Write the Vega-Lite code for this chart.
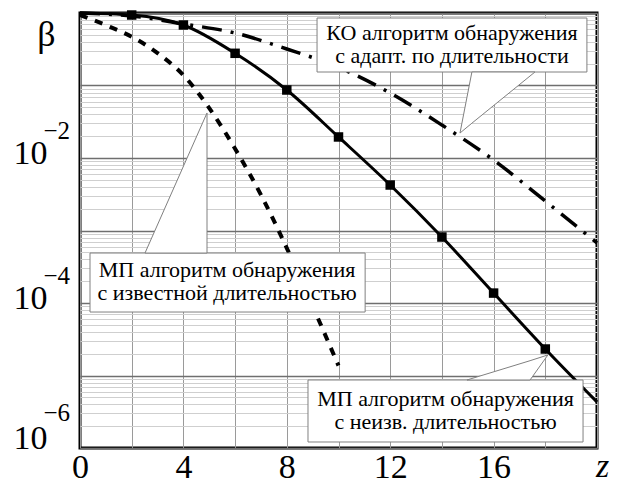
{
  "$schema": "https://vega.github.io/schema/vega-lite/v6.json",
  "width": 517,
  "height": 435,
  "autosize": "none",
  "padding": {"left": 80, "top": 13, "right": 27, "bottom": 35},
  "background": "white",
  "config": {
    "view": {"stroke": "black", "strokeWidth": 3},
    "font": "Liberation Serif",
    "axis": {"labelFont": "Liberation Serif", "titleFont": "Liberation Serif", "labelColor": "black", "titleColor": "black", "titleFontWeight": "normal", "ticks": false, "domain": false}
  },
  "datasets": {
    "curves": [
      {"series": "unk", "z": 0, "beta": 1.0},
      {"series": "unk", "z": 2, "beta": 0.938},
      {"series": "unk", "z": 4, "beta": 0.683},
      {"series": "unk", "z": 6, "beta": 0.278},
      {"series": "unk", "z": 8, "beta": 0.0867},
      {"series": "unk", "z": 10, "beta": 0.0195},
      {"series": "unk", "z": 12, "beta": 0.00424},
      {"series": "unk", "z": 14, "beta": 0.000813},
      {"series": "unk", "z": 16, "beta": 0.000137},
      {"series": "unk", "z": 18, "beta": 0.0000232},
      {"series": "unk", "z": 20, "beta": 0.00000431},
      {"series": "known", "z": 0, "beta": 0.938},
      {"series": "known", "z": 1, "beta": 0.681},
      {"series": "known", "z": 2, "beta": 0.470},
      {"series": "known", "z": 3, "beta": 0.280},
      {"series": "known", "z": 4, "beta": 0.1387},
      {"series": "known", "z": 5, "beta": 0.0488},
      {"series": "known", "z": 6, "beta": 0.01343},
      {"series": "known", "z": 7, "beta": 0.00310},
      {"series": "known", "z": 8, "beta": 0.000571},
      {"series": "known", "z": 9, "beta": 0.0000903},
      {"series": "known", "z": 10, "beta": 0.0000137},
      {"series": "ko", "z": 0, "beta": 1.0},
      {"series": "ko", "z": 2, "beta": 0.909},
      {"series": "ko", "z": 4, "beta": 0.705},
      {"series": "ko", "z": 6, "beta": 0.530},
      {"series": "ko", "z": 8, "beta": 0.319},
      {"series": "ko", "z": 10, "beta": 0.178},
      {"series": "ko", "z": 12, "beta": 0.0788},
      {"series": "ko", "z": 14, "beta": 0.0285},
      {"series": "ko", "z": 16, "beta": 0.00938},
      {"series": "ko", "z": 18, "beta": 0.00255},
      {"series": "ko", "z": 20, "beta": 0.000672}
    ],
    "notes": [
      {"id": "ko", "z1": 9.17, "z2": 19.61, "b1": 0.853, "b2": 0.1535, "zc": 14.39, "bc": 0.362, "text": "КО алгоритм обнаружения\nс адапт. по длительности"},
      {"id": "known", "z1": 0.387, "z2": 11.03, "b1": 0.000489, "b2": 0.0000751, "zc": 5.69, "bc": 0.000192, "text": "МП алгоритм обнаружения\nс известной длительностью"},
      {"id": "unk", "z1": 8.82, "z2": 19.46, "b1": 0.00000867, "b2": 0.00000121, "zc": 14.14, "bc": 0.00000324, "text": "МП алгоритм обнаружения\nс неизв. длительностью"}
    ],
    "pointers": [
      {"id": "ko", "z": 14.70, "b": 0.0221, "b2": 0.0221},
      {"id": "ko", "z": 15.16, "b": 0.1535, "b2": 0.0302},
      {"id": "ko", "z": 17.60, "b": 0.1535, "b2": 0.1535},
      {"id": "known", "z": 2.515, "b": 0.000489, "b2": 0.000489},
      {"id": "known", "z": 4.913, "b": 0.0418, "b2": 0.000489},
      {"id": "unk", "z": 14.97, "b": 0.00000867, "b2": 0.00000867},
      {"id": "unk", "z": 17.41, "b": 0.0000160, "b2": 0.00000867},
      {"id": "unk", "z": 18.10, "b": 0.0000192, "b2": 0.0000192}
    ]
  },
  "layer": [
    {
      "data": {"name": "curves"},
      "transform": [{"filter": "datum.series == 'unk'"}],
      "mark": {"type": "line", "color": "black", "strokeWidth": 3, "interpolate": "monotone"},
      "encoding": {
        "x": {"field": "z", "type": "quantitative", "scale": {"domain": [0, 20], "nice": false},
          "axis": {"values": [0, 2, 4, 6, 8, 10, 12, 14, 16, 18, 20], "labelExpr": "(datum.value % 4 == 0 && datum.value < 20) ? datum.label : ''", "labelFontSize": 34, "labelPadding": 2, "labelFlush": false, "labelOverlap": false, "grid": true, "gridColor": "#9a9a9a", "gridWidth": 1,
            "title": "z", "titleFontSize": 34, "titleFontStyle": "italic", "titleX": 522, "titleY": 28, "titleAlign": "center", "titleBaseline": "alphabetic", "titleAnchor": null}},
        "y": {"field": "beta", "type": "quantitative", "scale": {"type": "log", "domain": [0.000001, 1], "nice": false},
          "axis": {"orient": "left",
            "values": [0.000001, 0.000002, 0.000003, 0.000004, 0.000005, 0.000006, 0.000007, 0.000008, 0.000009,
                       0.00001, 0.00002, 0.00003, 0.00004, 0.00005, 0.00006, 0.00007, 0.00008, 0.00009,
                       0.0001, 0.0002, 0.0003, 0.0004, 0.0005, 0.0006, 0.0007, 0.0008, 0.0009,
                       0.001, 0.002, 0.003, 0.004, 0.005, 0.006, 0.007, 0.008, 0.009,
                       0.01, 0.02, 0.03, 0.04, 0.05, 0.06, 0.07, 0.08, 0.09,
                       0.1, 0.2, 0.3, 0.4, 0.5, 0.6, 0.7, 0.8, 0.9, 1],
            "labelExpr": "(datum.value == 0.01 || datum.value == 0.0001 || datum.value == 0.000001) ? '10' : ''",
            "labelFontSize": 34, "labelAlign": "right", "labelBaseline": "alphabetic", "labelPadding": 33, "labelOverlap": false,
            "labelOffset": {"condition": {"test": "datum.value < 0.0000015", "value": 0}, "value": 5},
            "grid": true,
            "gridColor": {"condition": {"test": "abs(log(datum.value)/LN10 - round(log(datum.value)/LN10)) < 0.001", "value": "#6f6f6f"}, "value": "#cfcfcf"},
            "gridWidth": {"condition": {"test": "abs(log(datum.value)/LN10 - round(log(datum.value)/LN10)) < 0.001", "value": 1.5}, "value": 1},
            "title": "β", "titleFontSize": 36, "titleAngle": 0, "titleX": -34, "titleY": 32, "titleAlign": "center", "titleBaseline": "alphabetic", "titleAnchor": null}}
      }
    },
    {
      "data": {"name": "curves"},
      "transform": [{"filter": "datum.series == 'unk' && datum.z > 0 && datum.z < 20"}],
      "mark": {"type": "point", "shape": "square", "filled": true, "color": "black", "size": 90, "opacity": 1},
      "encoding": {
        "x": {"field": "z", "type": "quantitative", "scale": {"domain": [0, 20], "nice": false}},
        "y": {"field": "beta", "type": "quantitative", "scale": {"type": "log", "domain": [0.000001, 1], "nice": false},
          "axis": {"orient": "left", "values": [0.01, 0.0001, 0.000001],
            "labelExpr": "datum.value == 0.01 ? '−2' : (datum.value == 0.0001 ? '−4' : '−6')",
            "labelFontSize": 25, "labelAlign": "left", "labelBaseline": "alphabetic", "labelPadding": 37, "labelOverlap": false,
            "labelOffset": {"condition": {"test": "datum.value < 0.0000015", "value": -28}, "value": -20},
            "grid": false, "title": null}}
      }
    },
    {
      "data": {"name": "curves"},
      "transform": [{"filter": "datum.series == 'known'"}],
      "mark": {"type": "line", "color": "black", "strokeWidth": 4, "strokeDash": [8, 8], "interpolate": "monotone"},
      "encoding": {
        "x": {"field": "z", "type": "quantitative", "scale": {"domain": [0, 20], "nice": false}},
        "y": {"field": "beta", "type": "quantitative", "scale": {"type": "log", "domain": [0.000001, 1], "nice": false}, "axis": null}
      }
    },
    {
      "data": {"name": "curves"},
      "transform": [{"filter": "datum.series == 'ko'"}],
      "mark": {"type": "line", "color": "black", "strokeWidth": 3.5, "strokeDash": [20, 9, 3, 9], "interpolate": "monotone"},
      "encoding": {
        "x": {"field": "z", "type": "quantitative", "scale": {"domain": [0, 20], "nice": false}},
        "y": {"field": "beta", "type": "quantitative", "scale": {"type": "log", "domain": [0.000001, 1], "nice": false}, "axis": null}
      }
    },
    {
      "data": {"name": "notes"},
      "mark": {"type": "rect", "fill": "white", "stroke": "#808080", "strokeWidth": 1},
      "encoding": {
        "x": {"field": "z1", "type": "quantitative", "scale": {"domain": [0, 20], "nice": false}},
        "x2": {"field": "z2"},
        "y": {"field": "b1", "type": "quantitative", "scale": {"type": "log", "domain": [0.000001, 1], "nice": false}, "axis": null},
        "y2": {"field": "b2"}
      }
    },
    {
      "data": {"name": "pointers"},
      "mark": {"type": "area", "fill": "white", "stroke": "#808080", "strokeWidth": 1, "interpolate": "linear", "opacity": 1},
      "encoding": {
        "x": {"field": "z", "type": "quantitative", "scale": {"domain": [0, 20], "nice": false}},
        "y": {"field": "b", "type": "quantitative", "scale": {"type": "log", "domain": [0.000001, 1], "nice": false}, "axis": null},
        "y2": {"field": "b2"},
        "detail": {"field": "id"}
      }
    },
    {
      "data": {"name": "notes"},
      "mark": {"type": "text", "font": "Liberation Serif", "fontSize": 22, "color": "black", "lineBreak": "\n", "lineHeight": 23, "align": "center", "baseline": "middle", "dy": -12},
      "encoding": {
        "x": {"field": "zc", "type": "quantitative", "scale": {"domain": [0, 20], "nice": false}},
        "y": {"field": "bc", "type": "quantitative", "scale": {"type": "log", "domain": [0.000001, 1], "nice": false}, "axis": null},
        "text": {"field": "text", "type": "nominal"}
      }
    }
  ],
  "resolve": {"axis": {"y": "independent"}}
}
